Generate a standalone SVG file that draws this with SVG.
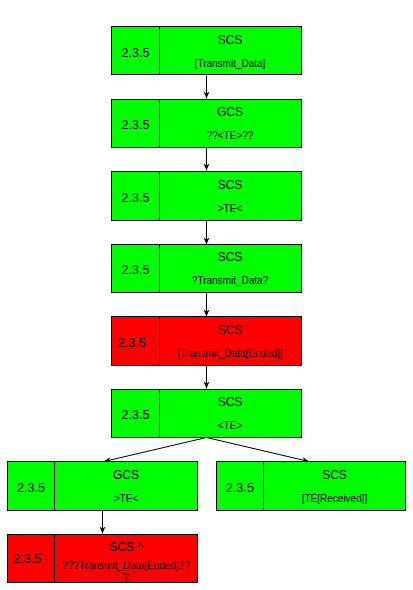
<svg xmlns="http://www.w3.org/2000/svg" width="413" height="590" viewBox="0 0 413 590">
<style>
.g{fill:#00ff00;stroke:#000;stroke-width:1}
.r{fill:#ff0000;stroke:#000;stroke-width:1}
.d{stroke:#000;stroke-width:1}
text{font-family:"Liberation Sans",Arial,sans-serif;fill:#000;text-anchor:middle}
.n{font-size:12.5px}
.t{font-size:12px}
.s{font-size:10px}
.c{stroke:#000;stroke-width:1;fill:none;marker-end:url(#ah)}
</style>
<defs>
<marker id="ah" markerWidth="8" markerHeight="8" refX="7" refY="4" orient="auto" markerUnits="userSpaceOnUse">
<path d="M0,1 L7,4 L0,7 L2,4 Z" fill="#000"/>
</marker>
</defs>
<rect width="413" height="590" fill="#fff"/>
<g id="connectors">
<line class="c" x1="206.5" y1="75.5" x2="206.5" y2="98.5"/>
<line class="c" x1="206.5" y1="147.5" x2="206.5" y2="170.5"/>
<line class="c" x1="206.5" y1="220.5" x2="206.5" y2="244.5"/>
<line class="c" x1="206.5" y1="292.5" x2="206.5" y2="316.5"/>
<line class="c" x1="206.5" y1="365.5" x2="206.5" y2="388.5"/>
<line class="c" x1="206.5" y1="437.5" x2="104" y2="461.5"/>
<line class="c" x1="206.5" y1="437.5" x2="309" y2="461.5"/>
<line class="c" x1="102.5" y1="510.5" x2="102.5" y2="533.5"/>
</g>
<g id="n1">
<rect class="g" x="111.5" y="26.5" width="190" height="48"/>
<line class="d" x1="159.5" y1="26.5" x2="159.5" y2="74.5"/>
<text class="n" x="135.5" y="56.5">2.3.5</text>
<text class="t" x="230" y="43.5">SCS</text>
<text class="s" x="230" y="66.5">[Transmit_Data]</text>
</g>
<g id="n2">
<rect class="g" x="111.5" y="99.5" width="190" height="48"/>
<line class="d" x1="159.5" y1="99.5" x2="159.5" y2="147.5"/>
<text class="n" x="135.5" y="129">2.3.5</text>
<text class="t" x="230" y="116">GCS</text>
<text class="s" x="230" y="139">??&lt;TE&gt;??</text>
</g>
<g id="n3">
<rect class="g" x="111.5" y="171.5" width="190" height="49"/>
<line class="d" x1="159.5" y1="171.5" x2="159.5" y2="220.5"/>
<text class="n" x="135.5" y="201.5">2.3.5</text>
<text class="t" x="230" y="188.5">SCS</text>
<text class="s" x="230" y="211.5">&gt;TE&lt;</text>
</g>
<g id="n4">
<rect class="g" x="111.5" y="244.5" width="190" height="48"/>
<line class="d" x1="159.5" y1="244.5" x2="159.5" y2="292.5"/>
<text class="n" x="135.5" y="274">2.3.5</text>
<text class="t" x="230" y="261">SCS</text>
<text class="s" x="230" y="284">?Transmit_Data?</text>
</g>
<g id="n5">
<rect class="r" x="111.5" y="316.5" width="190" height="49"/>
<line class="d" x1="159.5" y1="316.5" x2="159.5" y2="365.5"/>
<text class="n" x="135.5" y="346.5">2.3.5 -</text>
<text class="t" x="230" y="333.5">SCS</text>
<text class="s" x="230" y="356.5">[Transmit_Data[Ended]]</text>
</g>
<g id="n6">
<rect class="g" x="111.5" y="389.5" width="190" height="48"/>
<line class="d" x1="159.5" y1="389.5" x2="159.5" y2="437.5"/>
<text class="n" x="135.5" y="419">2.3.5</text>
<text class="t" x="230" y="406">SCS</text>
<text class="s" x="230" y="429">&lt;TE&gt;</text>
</g>
<g id="n7">
<rect class="g" x="7.5" y="461.5" width="190" height="49"/>
<line class="d" x1="54.5" y1="461.5" x2="54.5" y2="510.5"/>
<text class="n" x="31" y="491.5">2.3.5</text>
<text class="t" x="126" y="478.5">GCS</text>
<text class="s" x="126" y="501.5">&gt;TE&lt;</text>
</g>
<g id="n8">
<rect class="g" x="216.5" y="461.5" width="189" height="49"/>
<line class="d" x1="263.5" y1="461.5" x2="263.5" y2="510.5"/>
<text class="n" x="240" y="491.5">2.3.5</text>
<text class="t" x="334.5" y="478.5">SCS</text>
<text class="s" x="334.5" y="501.5">[TE[Received]]</text>
</g>
<g id="n9">
<rect class="r" x="7.5" y="534.5" width="190" height="48"/>
<line class="d" x1="54.5" y1="534.5" x2="54.5" y2="582.5"/>
<text class="n" x="31" y="562.5">2.3.5 -</text>
<text class="t" x="126" y="550.5">SCS ^</text>
<text class="s" x="126" y="568.5">???Transmit_Data[Ended]??</text>
<text class="s" x="126" y="581">?</text>
</g>
</svg>
